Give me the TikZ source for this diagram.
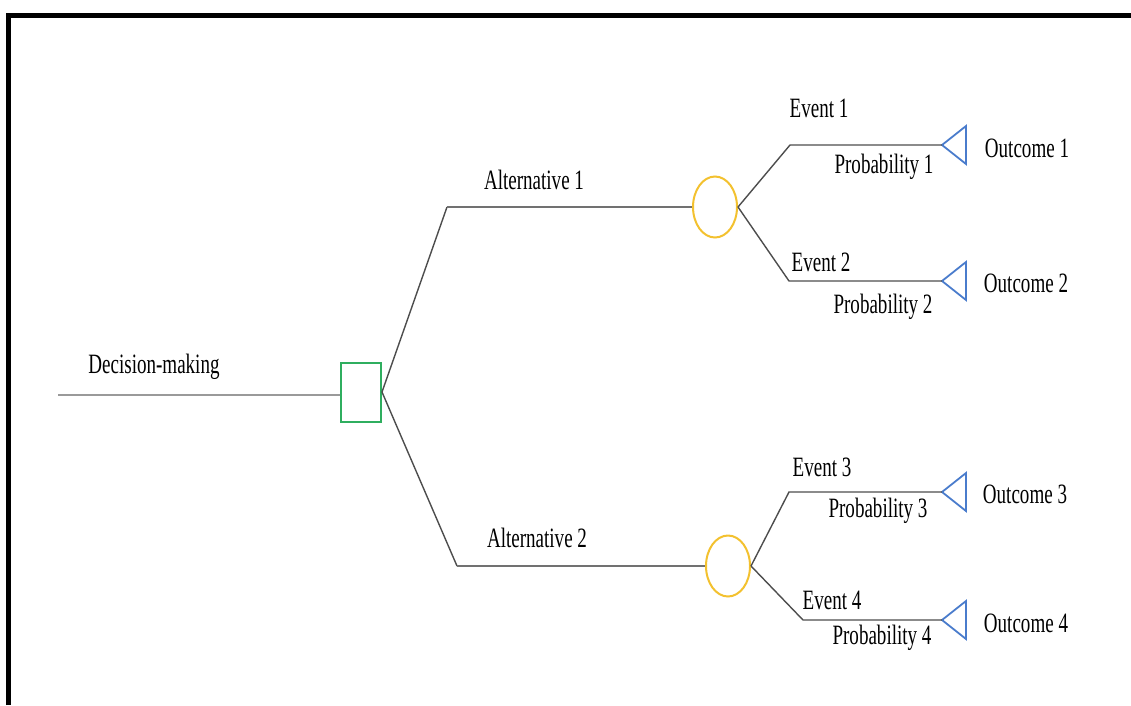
\documentclass[tikz,border=0pt]{standalone}
\usepackage{fontspec}
\setmainfont{Liberation Serif}[FakeStretch=0.68]
\usetikzlibrary{shapes.geometric}
\definecolor{decgreen}{HTML}{2FAE5F}
\definecolor{chanceyellow}{HTML}{F3C12F}
\definecolor{endblue}{HTML}{4A7CCC}
\definecolor{linegray}{HTML}{4D4D4D}
\definecolor{lightgray}{HTML}{9A9A9A}
\begin{document}
\begin{tikzpicture}[x=1pt,y=-1pt,
  lbl/.style={inner sep=0pt,font=\fontsize{28}{32}\selectfont},
  conn/.style={draw=linegray,line width=1.4pt},
  firstconn/.style={draw=lightgray,line width=2.5pt},
  altconn/.style={draw=linegray!80,line width=1.8pt},
  decbox/.style={draw=decgreen,line width=2pt,rectangle,minimum width=40pt,minimum height=59pt,inner sep=0pt},
  chance/.style={draw=chanceyellow,line width=2pt,ellipse,minimum width=44pt,minimum height=61pt,inner sep=0pt},
  tri/.style={draw=endblue,line width=1.8pt,line join=miter}]
\useasboundingbox (0,0) rectangle (1131,705);
% frame (top and left edges visible)
\draw[line width=5pt,line cap=butt] (8.5,705) -- (8.5,15) -- (1131,15);
% nodes
\coordinate (start) at (58,395);
\node[decbox] (dec) at (361,392) {};
\node[chance] (c1) at (715,207) {};
\node[chance] (c2) at (728,566) {};
\coordinate (a1) at (447,207);
\coordinate (a2) at (457,566);
\coordinate (e1) at (790,145);
\coordinate (e2) at (789,281);
\coordinate (e3) at (789,492);
\coordinate (e4) at (803,620);
\coordinate (t1) at (942,145);
\coordinate (t2) at (942,281);
\coordinate (t3) at (942,492);
\coordinate (t4) at (942,620);
% triangles
\foreach \t in {t1,t2,t3,t4}{\draw[tri] (\t) -- ++(24,-19) -- ++(0,38) -- cycle;}
% connectors
\draw[firstconn] (start) -- (start -| dec.west);
\draw[conn] (dec.east) -- (a1);
\draw[altconn] (a1) -- (c1.west);
\draw[conn] (dec.east) -- (a2);
\draw[altconn] (a2) -- (c2.west);
\draw[conn] (c1.east) -- (e1) -- (t1);
\draw[conn] (c1.east) -- (e2) -- (t2);
\draw[conn] (c2.east) -- (e3) -- (t3);
\draw[conn] (c2.east) -- (e4) -- (t4);
% labels
\node[lbl] (ldm) at (154,367) {Decision-making};
\node[lbl] (lal1) at (534,180) {Alternative 1};
\node[lbl] (lal2) at (537,538) {Alternative 2};
\node[lbl] (lev1) at (819,108) {Event 1};
\node[lbl] (lev2) at (821,262) {Event 2};
\node[lbl] (lev3) at (822,467) {Event 3};
\node[lbl] (lev4) at (832,600) {Event 4};
\node[lbl] (lp1) at (884,167) {Probability 1};
\node[lbl] (lp2) at (883,307) {Probability 2};
\node[lbl] (lp3) at (878,511) {Probability 3};
\node[lbl] (lp4) at (882,638) {Probability 4};
\node[lbl] (lo1) at (1027,148) {Outcome 1};
\node[lbl] (lo2) at (1026,283) {Outcome 2};
\node[lbl] (lo3) at (1025,494) {Outcome 3};
\node[lbl] (lo4) at (1026,623) {Outcome 4};
\end{tikzpicture}
\end{document}
